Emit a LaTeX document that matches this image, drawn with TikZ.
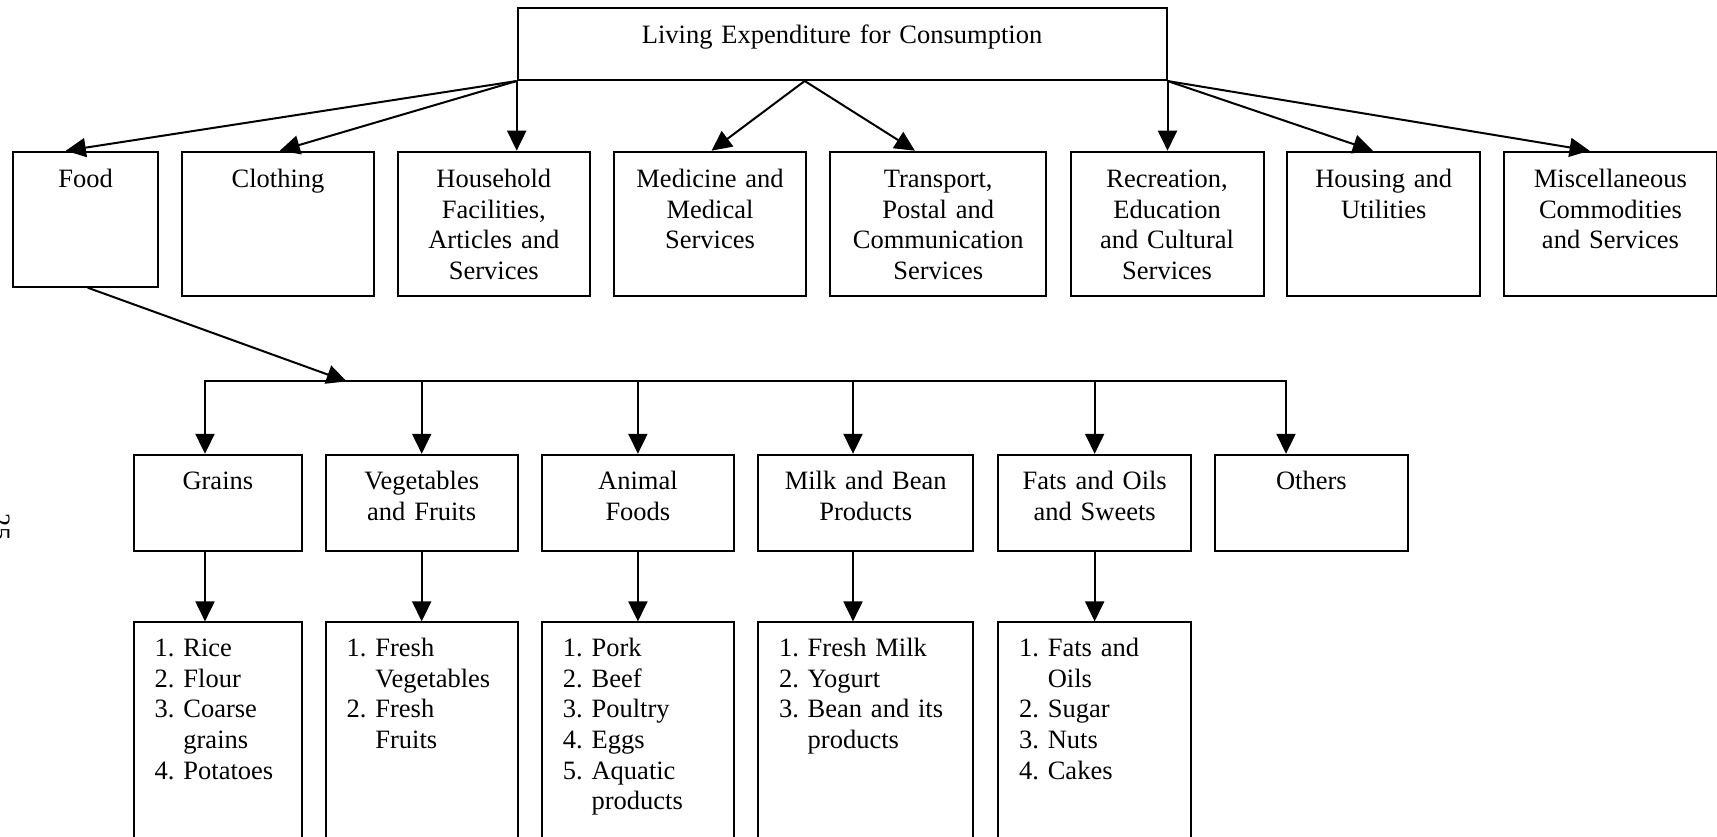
\documentclass[tikz,border=0pt]{standalone}
\usepackage{fontspec}
\setmainfont{Liberation Serif}
\usetikzlibrary{arrows.meta}
\frenchspacing
\tikzset{
  box/.style={draw, line width=1pt, anchor=north west, inner xsep=0pt, inner ysep=0pt,
    align=center, font=\fontsize{13.25}{15.3}\selectfont\frenchspacing, text height=18pt},
  topbox/.style={box, text height=17.8pt, text depth=18.35pt},
  lvtwo/.style={box, text depth=54.15pt},
  lvthree/.style={box, text height=17.5pt, text depth=30.4pt},
  listbox/.style={box, align=left, inner xsep=10.5pt, text height=17.1pt, text depth=110pt},
  conn/.style={line width=1pt},
  tip/.tip={Triangle[length=10pt,width=9.5pt]},
  arr/.style={conn, -tip},
}
\begin{document}
\begin{tikzpicture}[x=0.5pt, y=-0.5pt]
\useasboundingbox (0,0) rectangle (1717,836);

% page number (cut off at left edge)
\node[rotate=-90, anchor=base, inner sep=0pt, font=\fontsize{13.25}{15.3}\selectfont] (pg) at (-8,527) {25};

% top
\node[topbox, text width=324.4pt] (top) at (516.7,6.7) {Living Expenditure for Consumption};

% level 2
\node[box, text width=72.7pt, text depth=49.5pt] (food) at (12,150.7) {Food};
\node[lvtwo, text width=96pt] (cloth) at (181,150.7) {Clothing};
\node[lvtwo, text width=96.2pt] (house) at (396.6,150.7) {Household\\Facilities,\\Articles and\\Services};
\node[lvtwo, text width=96.3pt] (med) at (612.7,150.7) {Medicine and\\Medical\\Services};
\node[lvtwo, text width=108.2pt] (trans) at (829,150.7) {Transport,\\Postal and\\Communication\\Services};
\node[lvtwo, text width=96.55pt] (recr) at (1069.5,150.7) {Recreation,\\Education\\and Cultural\\Services};
\node[lvtwo, text width=96.55pt] (housing) at (1286.2,150.7) {Housing and\\Utilities};
\node[lvtwo, text width=106.5pt] (misc) at (1502.9,150.7) {Miscellaneous\\Commodities\\and Services};

% level 3
\node[lvthree, text width=84.15pt] (grains) at (132.7,453.8) {Grains};
\node[lvthree, text width=96pt] (veg) at (324.7,453.8) {Vegetables\\and Fruits};
\node[lvthree, text width=96pt] (animal) at (540.9,453.8) {Animal\\Foods};
\node[lvthree, text width=107.7pt] (milk) at (757,453.8) {Milk and Bean\\Products};
\node[lvthree, text width=96.55pt] (fats) at (997.1,453.8) {Fats and Oils\\and Sweets};
\node[lvthree, text width=96.55pt] (others) at (1213.8,453.8) {Others};

% level 4
\node[listbox, text width=63.15pt] (grainsl) at (132.7,621.4) {1. Rice\\2. Flour\\3. Coarse\\\phantom{3. }grains\\4. Potatoes};
\node[listbox, text width=75pt] (vegl) at (324.7,621.4) {1. Fresh\\\phantom{1. }Vegetables\\2. Fresh\\\phantom{2. }Fruits};
\node[listbox, text width=75pt] (animall) at (540.9,621.4) {1. Pork\\2. Beef\\3. Poultry\\4. Eggs\\5. Aquatic\\\phantom{5. }products};
\node[listbox, text width=86.7pt] (milkl) at (757,621.4) {1. Fresh Milk\\2. Yogurt\\3. Bean and its\\\phantom{3. }products};
\node[listbox, text width=75.55pt] (fatsl) at (997.1,621.4) {1. Fats and\\\phantom{1. }Oils\\2. Sugar\\3. Nuts\\4. Cakes};

% top-level connectors
\draw[arr] (top.south west) -- ([xshift=26.9pt]food.north west);
\draw[arr] (top.south west) -- ([xshift=49.4pt]cloth.north west);
\draw[arr] (top.south west) -- (top.south west |- house.north);
\draw[arr] ([xshift=144pt]top.south west) -- ([xshift=49.4pt]med.north west);
\draw[arr] ([xshift=144pt]top.south west) -- ([xshift=42.95pt]trans.north west);
\draw[arr] (top.south east) -- (top.south east |- recr.north);
\draw[arr] (top.south east) -- ([xshift=43.35pt]housing.north west);
\draw[arr] (top.south east) -- ([xshift=43.35pt]misc.north west);

% food bus
\coordinate (fb) at (346.7,381.4);
\coordinate (b1) at (205,381.4);
\coordinate (b4) at (853,381.4);
\coordinate (b6) at (1286,381.4);
\draw[arr] ([xshift=1pt]food.south) -- (fb);
\draw[conn, tip-tip] (b1 |- grains.north) -- (b1) -- (b6) -- (b6 |- others.north);
\draw[arr] (veg.north |- b1) -- (veg.north);
\draw[arr] (animal.north |- b1) -- (animal.north);
\draw[arr] (b4) -- (b4 |- milk.north);
\draw[arr] (fats.north |- b1) -- (fats.north);

% level 3 -> level 4
\draw[arr] (b1 |- grains.south) -- (b1 |- grainsl.north);
\draw[arr] (veg.south) -- (vegl.north);
\draw[arr] (animal.south) -- (animall.north);
\draw[arr] (b4 |- milk.south) -- (b4 |- milkl.north);
\draw[arr] (fats.south) -- (fatsl.north);
\end{tikzpicture}
\end{document}
